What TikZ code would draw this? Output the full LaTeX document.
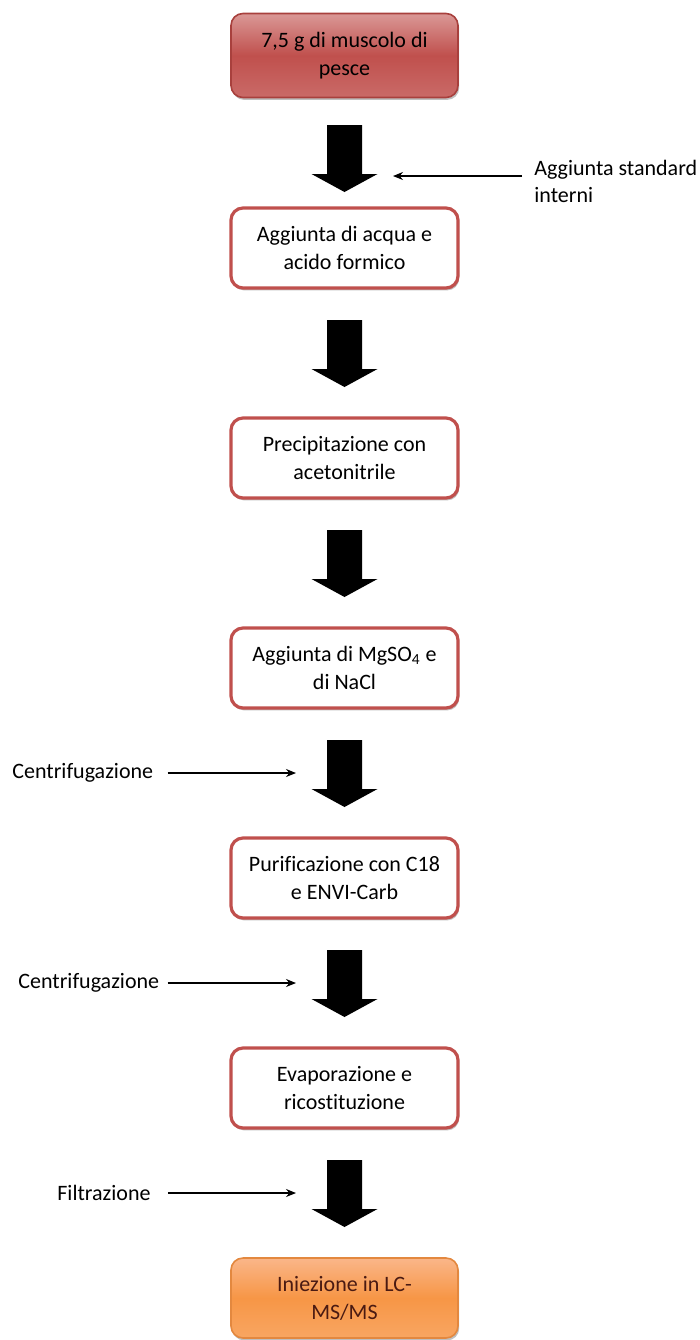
\documentclass[tikz,border=0pt]{standalone}
\usepackage{fontspec}
\setmainfont{Carlito}[Ligatures=NoCommon]
\usetikzlibrary{arrows.meta,shadows}
\definecolor{boxred}{HTML}{C0504D}
\definecolor{boxredlight}{HTML}{DA9896}
\definecolor{boxreddark}{HTML}{A8403D}
\definecolor{boxorange}{HTML}{F79646}
\definecolor{boxorangelight}{HTML}{FAB689}
\definecolor{boxorangedark}{HTML}{E3883F}
\definecolor{orangetext}{HTML}{4A1A12}
\tikzset{
  stepbox/.style={draw=boxred, line width=1.6pt, rounded corners=6pt, fill=white,
    minimum width=113.5pt, minimum height=40pt, align=center, inner sep=2pt,
    font=\fontsize{11}{14}\selectfont,
    drop shadow={shadow xshift=0.6pt, shadow yshift=-1.2pt, opacity=0.25, fill=black}},
  startbox/.style={stepbox, draw=boxreddark, line width=0.8pt,
    top color=boxredlight, bottom color=boxred!85!white, middle color=boxred},
  endbox/.style={stepbox, draw=boxorangedark, line width=0.8pt, text=orangetext,
    top color=boxorangelight, bottom color=boxorange!85!white, middle color=boxorange},
  sidelabel/.style={font=\fontsize{11}{13.5}\selectfont, align=left, inner sep=0pt},
  sidearrow/.style={line width=0.6pt, -{Stealth[length=5pt,width=4pt]}},
  bigarrow/.pic={\fill[black] (-17.5,0) -- (17.5,0) -- (17.5,49) -- (33,49) -- (0,67) -- (-33,49) -- (-17.5,49) -- cycle;}
}
\begin{document}
\begin{tikzpicture}[x=0.5pt,y=-0.5pt]
\useasboundingbox (0,0) rectangle (700,1340);
% boxes
\node[startbox, minimum height=42pt] (b1) at (344.5,55.5) {7,5 g di muscolo di\\pesce};
\node[stepbox] (b2) at (344.5,248) {Aggiunta di acqua e\\acido formico};
\node[stepbox] (b3) at (344.5,458) {Precipitazione con\\acetonitrile};
\node[stepbox] (b4) at (344.5,668) {Aggiunta di MgSO\textsubscript{4} e\\di NaCl};
\node[stepbox] (b5) at (344.5,878) {Purificazione con C18\\e ENVI-Carb};
\node[stepbox] (b6) at (344.5,1088) {Evaporazione e\\ricostituzione};
\node[endbox] (b7) at (344.5,1298) {Iniezione in LC-\\MS/MS};
% big arrows
\pic at (344.5,125) {bigarrow};
\pic at (344.5,320) {bigarrow};
\pic at (344.5,530) {bigarrow};
\pic at (344.5,740) {bigarrow};
\pic at (344.5,950) {bigarrow};
\pic at (344.5,1160) {bigarrow};
% side labels
\node[sidelabel, anchor=west] (s1) at (534,181) {Aggiunta standard\\interni};
\coordinate (s1end) at (393,176);
\draw[sidearrow] ([xshift=-6pt,yshift=2.5pt]s1.west) -- (s1end);
\node[sidelabel, anchor=west] (c1) at (12,773) {Centrifugazione};
\coordinate (c1end) at (296,773);
\draw[sidearrow] ([xshift=7pt]c1.east) -- (c1end);
\node[sidelabel, anchor=west] (c2) at (18,983) {Centrifugazione};
\coordinate (c2end) at (296,983);
\draw[sidearrow] ([xshift=4pt]c2.east) -- (c2end);
\node[sidelabel, anchor=west] (f1) at (57,1193) {Filtrazione};
\coordinate (f1end) at (296,1193);
\draw[sidearrow] ([xshift=8.5pt]f1.east) -- (f1end);
\end{tikzpicture}
\end{document}
